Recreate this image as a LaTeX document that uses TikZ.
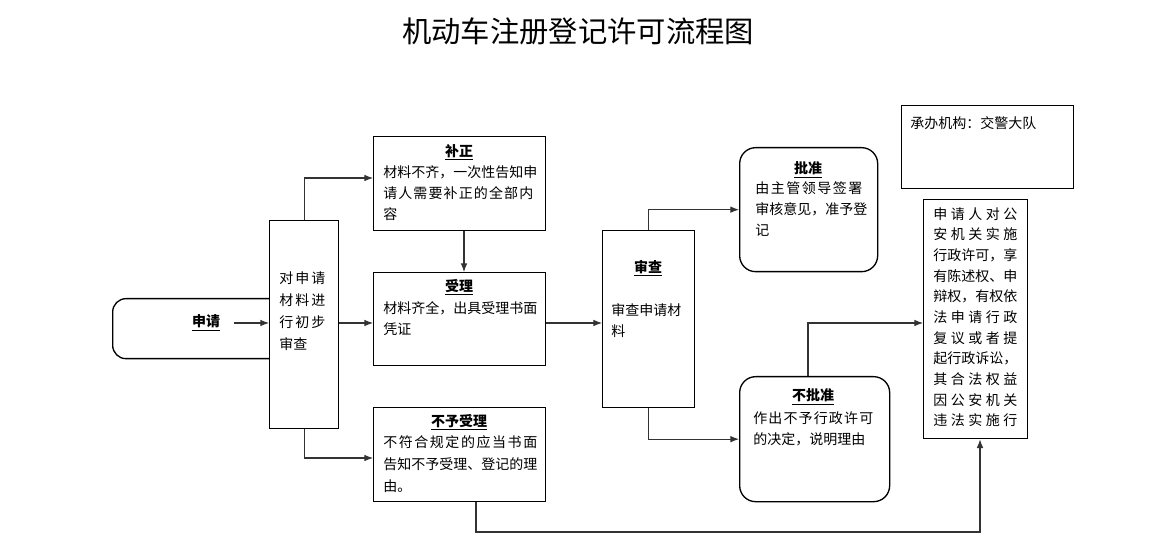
\documentclass[tikz,border=0pt]{standalone}
\usepackage{fontspec}
\setmainfont{Noto Sans CJK SC}
\usepackage{xcolor}
\usetikzlibrary{arrows.meta}
\definecolor{linegray}{rgb}{0.2,0.2,0.2}

\newcommand{\spreadline}[2]{\makebox[#1][s]{\spaceskip=0pt plus 1fil #2}}
\newcommand{\boxtitle}[1]{\textbf{\underline{#1}}}

\tikzset{
  flowbox/.style={draw, line width=1pt, fill=white, inner sep=0pt, anchor=north west},
  roundbox/.style={flowbox, rounded corners=12pt},
  boxtext/.style={anchor=north west, inner sep=0pt, align=left, font=\fontsize{10.5pt}{16pt}\selectfont},
  titletext/.style={inner sep=0pt, font=\fontsize{10.5pt}{12pt}\selectfont},
  arrowline/.style={line width=0.8pt, draw=linegray, -{Latex[length=6.5pt,width=5pt]}},
}

\begin{document}
\begin{tikzpicture}[x=0.75pt,y=0.75pt,yscale=-1]
\useasboundingbox (0,0) rectangle (1152,548);

% Title
\node (title) [font=\fontsize{22pt}{26pt}\selectfont] at (578,31) {机动车注册登记许可流程图};

%Rounded Rect: application
\node (shenqing) [roundbox, rounded corners=10pt, minimum width=141pt, minimum height=45pt] at (112,298) {};
%Shape: Rectangle: first check
\node (duishen) [flowbox, minimum width=51.75pt, minimum height=156pt] at (269,220) {};
%Shape: Rectangle: correction
\node (buzheng) [flowbox, minimum width=129pt, minimum height=70.5pt] at (373,136) {};
%Shape: Rectangle: accept
\node (shouli) [flowbox, minimum width=129pt, minimum height=69.75pt] at (373,272) {};
%Shape: Rectangle: reject
\node (buyu) [flowbox, minimum width=129pt, minimum height=70.5pt] at (373,407) {};
%Shape: Rectangle: review
\node (shencha) [flowbox, minimum width=69pt, minimum height=132.75pt] at (602,230) {};
%Rounded Rect: approve
\node (pizhun) [roundbox, minimum width=103.5pt, minimum height=93pt] at (739,147) {};
%Rounded Rect: not approve
\node (bupizhun) [roundbox, minimum width=112.5pt, minimum height=93.75pt] at (739,376) {};
%Shape: Rectangle: office
\node (chengban) [flowbox, minimum width=129pt, minimum height=62.25pt] at (901,105) {};
%Shape: Rectangle: rights
\node (quanli) [flowbox, minimum width=78pt, minimum height=179.25pt] at (923,199) {};

\coordinate (midrow) at (0,323);
\coordinate (bottomrow) at (0,532);
\coordinate (shenqing-out) at (234,323);

%Straight Lines
\draw [arrowline] (shenqing-out) -- (shenqing-out -| duishen.west);
\draw [arrowline] (duishen.north) |- (buzheng.west |- 0,178);
\draw [arrowline] (buzheng.south -| 464,0) -- (shouli.north -| 464,0);
\draw [arrowline] (duishen.east |- midrow) -- (shouli.west |- midrow);
\draw [arrowline] (duishen.south) |- (buyu.west |- 0,458);
\draw [arrowline] (shouli.east |- midrow) -- (shencha.west |- midrow);
\draw [arrowline] (shencha.north) |- (pizhun.west);
\draw [arrowline] (shencha.south) |- (bupizhun.west);
\draw [arrowline] (bupizhun.north -| 808,0) |- (quanli.west |- midrow);
\draw [arrowline] (buyu.south -| 476,0) |- (bottomrow -| 980,0) -- (quanli.south -| 980,0);

% Text Node
\node (shenqing-t) [titletext] at (206,323) {\boxtitle{申请}};
% Text Node
\node (duishen-t) [boxtext, font=\fontsize{10.5pt}{16.5pt}\selectfont] at (279,271) {\spreadline{34.5pt}{对 申 请}\\ \spreadline{34.5pt}{材 料 进}\\ \spreadline{34.5pt}{行 初 步}\\ 审查};
% Text Node
\node (buzheng-h) [titletext] at (459,152) {\boxtitle{补正}};
\node (buzheng-t) [boxtext] at (383,165) {材料不齐，一次性告知申\\ \spreadline{112.5pt}{请 人 需 要 补 正 的 全 部 内}\\ 容};
% Text Node
\node (shouli-h) [titletext] at (459,287) {\boxtitle{受理}};
\node (shouli-t) [boxtext] at (383,301) {材料齐全，出具受理书面\\ 凭证};
% Text Node
\node (buyu-h) [titletext] at (459,422) {\boxtitle{不予受理}};
\node (buyu-t) [boxtext, font=\fontsize{10.5pt}{16.6pt}\selectfont] at (383,435) {\spreadline{115.5pt}{不 符 合 规 定 的 应 当 书 面}\\ 告知不予受理、登记的理\\ 由。};
% Text Node
\node (shencha-h) [titletext] at (648,268) {\boxtitle{审查}};
\node (shencha-t) [boxtext] at (611,303) {审查申请材\\ 料};
% Text Node
\node (pizhun-h) [titletext] at (808,170) {\boxtitle{批准}};
\node (pizhun-t) [boxtext] at (755,181) {\spreadline{80.25pt}{由 主 管 领 导 签 署}\\ 审核意见，准予登\\ 记};
% Text Node
\node (bupizhun-h) [titletext] at (813,397) {\boxtitle{不批准}};
\node (bupizhun-t) [boxtext] at (753,411) {\spreadline{90pt}{作 出 不 予 行 政 许 可}\\ 的决定，说明理由};
% Text Node
\node (chengban-t) [boxtext] at (910,116) {承办机构：交警大队};
% Text Node
\node (quanli-t) [boxtext, font=\fontsize{10.5pt}{15.5pt}\selectfont] at (933,207) {\spreadline{63pt}{申 请 人 对 公}\\ \spreadline{63pt}{安 机 关 实 施}\\ 行政许可，享\\ 有陈述权、申\\ 辩权，有权依\\ \spreadline{63pt}{法 申 请 行 政}\\ \spreadline{63pt}{复 议 或 者 提}\\ 起行政诉讼，\\ \spreadline{63pt}{其 合 法 权 益}\\ \spreadline{63pt}{因 公 安 机 关}\\ \spreadline{63pt}{违 法 实 施 行}};

\end{tikzpicture}
\end{document}
